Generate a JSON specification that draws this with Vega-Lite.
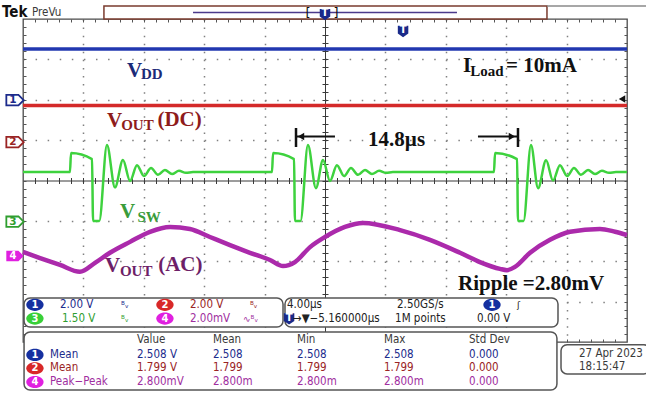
{
  "$schema": "https://vega.github.io/schema/vega-lite/v6.json",
  "width": 604,
  "height": 323,
  "autosize": {"type": "none"},
  "padding": {"left": 23, "top": 19, "right": 19, "bottom": 52},
  "background": "#ffffff",
  "config": {"view": {"stroke": "#4a4a4a", "strokeWidth": 1.3}},
  "resolve": {"axis": {"x": "independent", "y": "independent"}},
  "datasets": {
    "vdd": [{"t": -20, "v": 3.257}, {"t": 20, "v": 3.257}],
    "voutdc": [{"t": -20, "v": 1.858}, {"t": 20, "v": 1.858}],
    "vsw": [{"t":-20,"v":0.21},{"t":-16.89,"v":0.21},{"t":-16.82,"v":0.68},{"t":-15.43,"v":0.53},{"t":-15.36,"v":-1.0},{"t":-14.95,"v":-1.0},{"t":-14.44,"v":0.88},{"t":-13.91,"v":-0.17},{"t":-13.38,"v":0.51},{"t":-12.91,"v":-0.01},{"t":-12.45,"v":0.38},{"t":-11.99,"v":0.11},{"t":-11.52,"v":0.31},{"t":-11.06,"v":0.14},{"t":-10.6,"v":0.26},{"t":-10.13,"v":0.16},{"t":-9.67,"v":0.24},{"t":-9.21,"v":0.19},{"t":-8.74,"v":0.21},
      {"t":-3.51,"v":0.21},{"t":-3.44,"v":0.68},{"t":-2.05,"v":0.53},{"t":-1.99,"v":-1.0},{"t":-1.62,"v":-1.0},{"t":-1.13,"v":0.88},{"t":-0.6,"v":-0.19},{"t":-0.13,"v":0.51},{"t":0.33,"v":-0.01},{"t":0.79,"v":0.38},{"t":1.26,"v":0.11},{"t":1.72,"v":0.31},{"t":2.19,"v":0.14},{"t":2.65,"v":0.26},{"t":3.11,"v":0.16},{"t":3.58,"v":0.24},{"t":4.04,"v":0.19},{"t":4.5,"v":0.21},
      {"t":11.19,"v":0.21},{"t":11.26,"v":0.68},{"t":12.72,"v":0.53},{"t":12.78,"v":-1.0},{"t":13.15,"v":-1.0},{"t":13.64,"v":0.88},{"t":14.11,"v":-0.19},{"t":14.64,"v":0.5},{"t":15.1,"v":0.0},{"t":15.56,"v":0.38},{"t":16.03,"v":0.11},{"t":16.49,"v":0.31},{"t":16.95,"v":0.14},{"t":17.42,"v":0.26},{"t":17.88,"v":0.16},{"t":18.34,"v":0.24},{"t":18.81,"v":0.19},{"t":19.27,"v":0.21},{"t":20,"v":0.21}],
    "voutac": [{"t":-20,"v":-1.77},{"t":-18.87,"v":-1.92},{"t":-17.55,"v":-2.09},{"t":-16.23,"v":-2.26},{"t":-15.23,"v":-2.04},{"t":-14.24,"v":-1.79},{"t":-12.91,"v":-1.52},{"t":-11.59,"v":-1.27},{"t":-10.26,"v":-1.15},{"t":-8.94,"v":-1.2},{"t":-7.62,"v":-1.4},{"t":-6.29,"v":-1.6},{"t":-4.97,"v":-1.79},{"t":-3.64,"v":-1.97},{"t":-2.78,"v":-2.12},{"t":-1.99,"v":-2.02},{"t":-0.99,"v":-1.65},{"t":0,"v":-1.4},{"t":1.32,"v":-1.15},{"t":2.52,"v":-1.05},{"t":4.97,"v":-1.23},{"t":6.95,"v":-1.47},{"t":8.94,"v":-1.79},{"t":10.26,"v":-2.02},{"t":11.59,"v":-2.19},{"t":12.05,"v":-2.22},{"t":12.58,"v":-2.14},{"t":13.58,"v":-1.79},{"t":14.9,"v":-1.47},{"t":16.23,"v":-1.27},{"t":18.21,"v":-1.2},{"t":19.21,"v":-1.27},{"t":20,"v":-1.35}],
    "arrowLines": [{"t": -1.92, "t2": 0.66, "v": 1.09}, {"t": 10.13, "t2": 12.72, "v": 1.09}],
    "arrowBars": [{"t": -1.92, "v": 1.3, "v2": 0.83}, {"t": 12.78, "v": 1.3, "v2": 0.83}],
    "arrowHeads": [{"t": -1.59, "v": 1.09, "dir": "left"}, {"t": 12.38, "v": 1.09, "dir": "right"}, {"t": 19.67, "v": 2.02, "dir": "left"}],
    "serifMain": [
      {"label":"V","ch":"VDD","t":-13.11,"v":2.56},
      {"label":"V","ch":"VOUT(DC)","t":-14.44,"v":1.33},
      {"label":"(DC)","ch":"VOUT(DC)","t":-11.1,"v":1.35},
      {"label":"I","ch":"note","t":9.14,"v":2.69},
      {"label":"= 10mA","ch":"note","t":11.99,"v":2.69},
      {"label":"14.8µs","ch":"note","t":2.85,"v":0.85},
      {"label":"V","ch":"VSW","t":-13.58,"v":-0.93},
      {"label":"V","ch":"VOUT(AC)","t":-14.57,"v":-2.27},
      {"label":"(AC)","ch":"VOUT(AC)","t":-11.05,"v":-2.24},
      {"label":"Ripple =2.80mV","ch":"note","t":8.81,"v":-2.71}
    ],
    "serifSub": [
      {"label":"DD","ch":"VDD","t":-12.19,"v":2.51},
      {"label":"OUT","ch":"VOUT(DC)","t":-13.5,"v":1.26},
      {"label":"Load","ch":"note","t":9.62,"v":2.59},
      {"label":"SW","ch":"VSW","t":-12.42,"v":-1.03},
      {"label":"OUT","ch":"VOUT(AC)","t":-13.58,"v":-2.37}
    ],
    "scopeText": [
      {"label":"2.00 V","ch":"ch1","t":-17.55,"v":-3.08},
      {"label":"2.00 V","ch":"ch2","t":-8.94,"v":-3.08},
      {"label":"1.50 V","ch":"ch3","t":-17.42,"v":-3.42},
      {"label":"2.00mV","ch":"ch4","t":-8.94,"v":-3.42},
      {"label":"4.00µs","ch":"text","t":-2.52,"v":-3.08},
      {"label":"2.50GS/s","ch":"text","t":4.77,"v":-3.08},
      {"label":"→▼−5.160000µs","ch":"text","t":-2.12,"v":-3.42},
      {"label":"1M points","ch":"text","t":4.64,"v":-3.42},
      {"label":"0.00 V","ch":"text","t":10.07,"v":-3.42},
      {"label":"Value","ch":"header","t":-12.45,"v":-3.95},
      {"label":"Mean","ch":"header","t":-7.42,"v":-3.95},
      {"label":"Min","ch":"header","t":-1.85,"v":-3.95},
      {"label":"Max","ch":"header","t":3.91,"v":-3.95},
      {"label":"Std Dev","ch":"header","t":9.54,"v":-3.95},
      {"label":"Mean","ch":"ch1","t":-18.21,"v":-4.32},
      {"label":"2.508 V","ch":"ch1","t":-12.45,"v":-4.32},
      {"label":"2.508","ch":"ch1","t":-7.42,"v":-4.32},
      {"label":"2.508","ch":"ch1","t":-1.85,"v":-4.32},
      {"label":"2.508","ch":"ch1","t":3.91,"v":-4.32},
      {"label":"0.000","ch":"ch1","t":9.54,"v":-4.32},
      {"label":"Mean","ch":"ch2","t":-18.21,"v":-4.65},
      {"label":"1.799 V","ch":"ch2","t":-12.45,"v":-4.65},
      {"label":"1.799","ch":"ch2","t":-7.42,"v":-4.65},
      {"label":"1.799","ch":"ch2","t":-1.85,"v":-4.65},
      {"label":"1.799","ch":"ch2","t":3.91,"v":-4.65},
      {"label":"0.000","ch":"ch2","t":9.54,"v":-4.65},
      {"label":"Peak−Peak","ch":"ch4","t":-18.21,"v":-4.99},
      {"label":"2.800mV","ch":"ch4","t":-12.45,"v":-4.99},
      {"label":"2.800m","ch":"ch4","t":-7.42,"v":-4.99},
      {"label":"2.800m","ch":"ch4","t":-1.85,"v":-4.99},
      {"label":"2.800m","ch":"ch4","t":3.91,"v":-4.99},
      {"label":"0.000","ch":"ch4","t":9.54,"v":-4.99},
      {"label":"27 Apr  2023","ch":"header","t":16.82,"v":-4.29},
      {"label":"18:15:47","ch":"header","t":16.82,"v":-4.62},
      {"label":"PreVu","ch":"header","t":-19.4,"v":4.16}
    ],
    "icons": [
      {"label":"ᴮᵥ","ch":"ch1","t":-13.51,"v":-3.08},
      {"label":"ᴮᵥ","ch":"ch2","t":-4.97,"v":-3.08},
      {"label":"ᴮᵥ","ch":"ch3","t":-13.51,"v":-3.42},
      {"label":"∿ᴮᵥ","ch":"ch4","t":-5.43,"v":-3.42},
      {"label":"ʃ","ch":"text","t":12.72,"v":-3.08}
    ],
    "badges": [
      {"ch":"ch1 badge","t":-19.21,"v":-3.08},{"ch":"ch2 badge","t":-10.6,"v":-3.08},
      {"ch":"ch3 badge","t":-19.21,"v":-3.42},{"ch":"ch4 badge","t":-10.6,"v":-3.42},
      {"ch":"ch1 badge","t":11.06,"v":-3.08},
      {"ch":"ch1 badge","t":-19.21,"v":-4.32},{"ch":"ch2 badge","t":-19.21,"v":-4.65},{"ch":"ch4 badge","t":-19.21,"v":-4.99}
    ],
    "shields": [{"ch":"trigger","t":0,"v":4.12},{"ch":"trigger","t":5.17,"v":3.7},{"ch":"trigger","t":-2.38,"v":-3.42}],
    "chMarkers": [{"ch":"ch1","label":"1","t":-20.53,"v":1.99},{"ch":"ch2","label":"2","t":-20.53,"v":0.95},{"ch":"ch3","label":"3","t":-20.53,"v":-1.02}],
    "ch4Marker": [{"ch":"ch4 badge","t":-20.53,"v":-1.87}],
    "whiteGlyphs": [
      {"label":"1","t":-19.21,"v":-3.08},{"label":"2","t":-10.6,"v":-3.08},{"label":"3","t":-19.21,"v":-3.42},{"label":"4","t":-10.6,"v":-3.42},
      {"label":"1","t":11.06,"v":-3.08},{"label":"1","t":-19.21,"v":-4.32},{"label":"2","t":-19.21,"v":-4.65},{"label":"4","t":-19.21,"v":-4.99},
      {"label":"T","t":0,"v":4.14},{"label":"T","t":5.17,"v":3.72},{"label":"T","t":-2.38,"v":-3.4},{"label":"4","t":-20.66,"v":-1.87}
    ],
    "brackets": [{"label":"[","t":-1.13,"v":4.16},{"label":"]","t":0.73,"v":4.16}],
    "recBar": [{"t":-14.64,"t2":14.7,"v":4.32,"v2":4.0}],
    "topRules": [{"ch":"record","t":-8.74,"t2":8.74,"v":4.16},{"ch":"frame","t":14.7,"t2":21.6,"v":4.32}],
    "panels": [
      {"name":"channel scales","t":-19.93,"t2":-2.78,"v":-2.91,"v2":-3.63},
      {"name":"timebase","t":-2.65,"t2":15.43,"v":-2.91,"v2":-3.63},
      {"name":"measurements","t":-19.93,"t2":15.36,"v":-3.75,"v2":-5.19},
      {"name":"date","t":15.63,"t2":21.52,"v":-4.07,"v2":-4.79}
    ]
  },
  "layer": [
    {
      "data": {"name": "vdd"},
      "mark": {"type": "line", "color": "#2238b0", "strokeWidth": 3.5},
      "encoding": {
        "x": {"field": "t", "type": "quantitative", "scale": {"domain": [-20, 20], "nice": false, "zero": false},
              "axis": {"orient": "bottom", "grid": true, "gridColor": "#808080", "gridWidth": 1.5, "gridDash": [1.5, 6.57], "values": [-16, -12, -8, -4, 4, 8, 12, 16], "ticks": false, "labels": false, "domain": false, "title": null}},
        "y": {"field": "v", "type": "quantitative", "scale": {"domain": [-4, 4], "nice": false, "zero": false},
              "axis": {"orient": "left", "grid": true, "gridColor": "#808080", "gridWidth": 1.5, "gridDash": [1.5, 10.58], "values": [-3, -2, -1, 1, 2, 3], "ticks": false, "labels": false, "domain": false, "title": null}}
      }
    },
    {
      "data": {"name": "voutdc"},
      "mark": {"type": "line", "color": "#d42a2a", "strokeWidth": 3.5},
      "encoding": {
        "x": {"field": "t", "type": "quantitative", "scale": {"domain": [-20, 20], "nice": false, "zero": false},
              "axis": {"orient": "bottom", "offset": -161.5, "values": [-19.2,-18.4,-17.6,-16.8,-16,-15.2,-14.4,-13.6,-12.8,-12,-11.2,-10.4,-9.6,-8.8,-8,-7.2,-6.4,-5.6,-4.8,-4,-3.2,-2.4,-1.6,-0.8,0,0.8,1.6,2.4,3.2,4,4.8,5.6,6.4,7.2,8,8.8,9.6,10.4,11.2,12,12.8,13.6,14.4,15.2,16,16.8,17.6,18.4,19.2], "ticks": true, "tickSize": 3, "tickColor": "#3a3a3a", "domain": true, "domainColor": "#3a3a3a", "domainWidth": 1, "labels": false, "grid": false, "title": null}},
        "y": {"field": "v", "type": "quantitative", "scale": {"domain": [-4, 4], "nice": false, "zero": false},
              "axis": {"orient": "left", "offset": -302, "values": [-3.8,-3.6,-3.4,-3.2,-3,-2.8,-2.6,-2.4,-2.2,-2,-1.8,-1.6,-1.4,-1.2,-1,-0.8,-0.6,-0.4,-0.2,0,0.2,0.4,0.6,0.8,1,1.2,1.4,1.6,1.8,2,2.2,2.4,2.6,2.8,3,3.2,3.4,3.6,3.8], "ticks": true, "tickSize": 3, "tickColor": "#3a3a3a", "domain": true, "domainColor": "#3a3a3a", "domainWidth": 1, "labels": false, "grid": false, "title": null}}
      }
    },
    {
      "data": {"name": "vsw"},
      "mark": {"type": "line", "color": "#3ed23e", "strokeWidth": 2.5, "interpolate": "monotone"},
      "encoding": {
        "x": {"field": "t", "type": "quantitative", "scale": {"domain": [-20, 20], "nice": false, "zero": false},
              "axis": {"orient": "top", "offset": -161.5, "values": [-19.2,-18.4,-17.6,-16.8,-16,-15.2,-14.4,-13.6,-12.8,-12,-11.2,-10.4,-9.6,-8.8,-8,-7.2,-6.4,-5.6,-4.8,-4,-3.2,-2.4,-1.6,-0.8,0,0.8,1.6,2.4,3.2,4,4.8,5.6,6.4,7.2,8,8.8,9.6,10.4,11.2,12,12.8,13.6,14.4,15.2,16,16.8,17.6,18.4,19.2], "ticks": true, "tickSize": 3, "tickColor": "#3a3a3a", "domain": false, "labels": false, "grid": false, "title": null}},
        "y": {"field": "v", "type": "quantitative", "scale": {"domain": [-4, 4], "nice": false, "zero": false},
              "axis": {"orient": "right", "offset": -302, "values": [-3.8,-3.6,-3.4,-3.2,-3,-2.8,-2.6,-2.4,-2.2,-2,-1.8,-1.6,-1.4,-1.2,-1,-0.8,-0.6,-0.4,-0.2,0,0.2,0.4,0.6,0.8,1,1.2,1.4,1.6,1.8,2,2.2,2.4,2.6,2.8,3,3.2,3.4,3.6,3.8], "ticks": true, "tickSize": 3, "tickColor": "#3a3a3a", "domain": false, "labels": false, "grid": false, "title": null}}
      }
    },
    {
      "data": {"name": "voutac"},
      "mark": {"type": "line", "color": "#ab2aab", "strokeWidth": 4.5, "strokeJoin": "round", "interpolate": "monotone"},
      "encoding": {
        "x": {"field": "t", "type": "quantitative", "scale": {"domain": [-20, 20], "nice": false, "zero": false},
              "axis": {"orient": "top", "offset": -3, "values": [-19.2,-18.4,-17.6,-16.8,-16,-15.2,-14.4,-13.6,-12.8,-12,-11.2,-10.4,-9.6,-8.8,-8,-7.2,-6.4,-5.6,-4.8,-4,-3.2,-2.4,-1.6,-0.8,0,0.8,1.6,2.4,3.2,4,4.8,5.6,6.4,7.2,8,8.8,9.6,10.4,11.2,12,12.8,13.6,14.4,15.2,16,16.8,17.6,18.4,19.2], "ticks": true, "tickSize": 3, "tickColor": "#555555", "domain": false, "labels": false, "grid": false, "title": null}},
        "y": {"field": "v", "type": "quantitative", "scale": {"domain": [-4, 4], "nice": false, "zero": false},
              "axis": {"orient": "left", "offset": -3, "values": [-3.8,-3.6,-3.4,-3.2,-3,-2.8,-2.6,-2.4,-2.2,-2,-1.8,-1.6,-1.4,-1.2,-1,-0.8,-0.6,-0.4,-0.2,0,0.2,0.4,0.6,0.8,1,1.2,1.4,1.6,1.8,2,2.2,2.4,2.6,2.8,3,3.2,3.4,3.6,3.8], "ticks": true, "tickSize": 3, "tickColor": "#555555", "domain": false, "labels": false, "grid": false, "title": null}}
      }
    },
    {
      "data": {"name": "arrowLines"},
      "mark": {"type": "rule", "color": "#111111", "strokeWidth": 2},
      "encoding": {
        "x": {"field": "t", "type": "quantitative", "scale": {"domain": [-20, 20], "nice": false, "zero": false},
              "axis": {"orient": "bottom", "offset": -3, "values": [-19.2,-18.4,-17.6,-16.8,-16,-15.2,-14.4,-13.6,-12.8,-12,-11.2,-10.4,-9.6,-8.8,-8,-7.2,-6.4,-5.6,-4.8,-4,-3.2,-2.4,-1.6,-0.8,0,0.8,1.6,2.4,3.2,4,4.8,5.6,6.4,7.2,8,8.8,9.6,10.4,11.2,12,12.8,13.6,14.4,15.2,16,16.8,17.6,18.4,19.2], "ticks": true, "tickSize": 3, "tickColor": "#555555", "domain": false, "labels": false, "grid": false, "title": null}},
        "x2": {"field": "t2"},
        "y": {"field": "v", "type": "quantitative", "scale": {"domain": [-4, 4], "nice": false, "zero": false},
              "axis": {"orient": "right", "offset": -3, "values": [-3.8,-3.6,-3.4,-3.2,-3,-2.8,-2.6,-2.4,-2.2,-2,-1.8,-1.6,-1.4,-1.2,-1,-0.8,-0.6,-0.4,-0.2,0,0.2,0.4,0.6,0.8,1,1.2,1.4,1.6,1.8,2,2.2,2.4,2.6,2.8,3,3.2,3.4,3.6,3.8], "ticks": true, "tickSize": 3, "tickColor": "#555555", "domain": false, "labels": false, "grid": false, "title": null}}
      }
    },
    {
      "data": {"name": "arrowBars"},
      "mark": {"type": "rule", "color": "#111111", "strokeWidth": 2.5},
      "encoding": {
        "x": {"field": "t", "type": "quantitative", "axis": null},
        "y": {"field": "v", "type": "quantitative", "axis": null},
        "y2": {"field": "v2"}
      }
    },
    {
      "data": {"name": "arrowHeads"},
      "mark": {"type": "point", "filled": true, "color": "#111111", "size": 55, "opacity": 1},
      "encoding": {
        "x": {"field": "t", "type": "quantitative", "axis": null},
        "y": {"field": "v", "type": "quantitative", "axis": null},
        "shape": {"field": "dir", "type": "nominal", "legend": null, "scale": {"domain": ["left", "right"], "range": ["triangle-left", "triangle-right"]}}
      }
    },
    {
      "data": {"name": "serifMain"},
      "mark": {"type": "text", "font": "Liberation Serif", "fontWeight": "bold", "fontSize": 21, "align": "left", "baseline": "alphabetic"},
      "encoding": {
        "x": {"field": "t", "type": "quantitative", "axis": null},
        "y": {"field": "v", "type": "quantitative", "axis": null},
        "text": {"field": "label", "type": "nominal"},
        "color": {"field": "ch", "type": "nominal", "legend": null, "scale": {"domain": ["VDD","VOUT(DC)","VSW","VOUT(AC)","note","ch1","ch2","ch3","ch4","ch1 badge","ch2 badge","ch3 badge","ch4 badge","text","header","trigger","record","frame"], "range": ["#1b2a78","#8e1b1b","#3a9c3a","#6e1f68","#111111","#1c2b8c","#9a2424","#2f9e2f","#a02ea0","#1530a0","#d82828","#38d038","#e020e0","#222222","#3a3a3a","#1a2a8a","#4b3a8c","#8a8a8a"]}}
      }
    },
    {
      "data": {"name": "serifSub"},
      "mark": {"type": "text", "font": "Liberation Serif", "fontWeight": "bold", "fontSize": 15, "align": "left", "baseline": "alphabetic"},
      "encoding": {
        "x": {"field": "t", "type": "quantitative", "axis": null},
        "y": {"field": "v", "type": "quantitative", "axis": null},
        "text": {"field": "label", "type": "nominal"},
        "color": {"field": "ch", "type": "nominal", "legend": null}
      }
    },
    {
      "data": {"name": "recBar"},
      "mark": {"type": "rect", "fill": "#ffffff", "stroke": "#7a3b2e", "strokeWidth": 1.5},
      "encoding": {
        "x": {"field": "t", "type": "quantitative", "axis": null},
        "x2": {"field": "t2"},
        "y": {"field": "v", "type": "quantitative", "axis": null},
        "y2": {"field": "v2"}
      }
    },
    {
      "data": {"name": "topRules"},
      "mark": {"type": "rule", "strokeWidth": 1.5},
      "encoding": {
        "x": {"field": "t", "type": "quantitative", "axis": null},
        "x2": {"field": "t2"},
        "y": {"field": "v", "type": "quantitative", "axis": null},
        "color": {"field": "ch", "type": "nominal", "legend": null}
      }
    },
    {
      "data": {"name": "brackets"},
      "mark": {"type": "text", "font": "DejaVu Sans", "fontSize": 13, "align": "center", "baseline": "middle", "color": "#111111"},
      "encoding": {
        "x": {"field": "t", "type": "quantitative", "axis": null},
        "y": {"field": "v", "type": "quantitative", "axis": null},
        "text": {"field": "label", "type": "nominal"}
      }
    },
    {
      "data": {"values": [{"label": "Tek", "t": -21.39, "v": 4.05}]},
      "mark": {"type": "text", "font": "DejaVu Sans Condensed, DejaVu Sans", "fontWeight": "bold", "fontSize": 15, "align": "left", "baseline": "alphabetic", "color": "#111111"},
      "encoding": {
        "x": {"field": "t", "type": "quantitative", "axis": null},
        "y": {"field": "v", "type": "quantitative", "axis": null},
        "text": {"field": "label", "type": "nominal"}
      }
    },
    {
      "data": {"name": "chMarkers"},
      "mark": {"type": "point", "filled": false, "strokeWidth": 1.8, "size": 300, "opacity": 1, "shape": "M-1,-0.6L0.4,-0.6L1,0L0.4,0.6L-1,0.6Z", "fill": "#ffffff", "fillOpacity": 1},
      "encoding": {
        "x": {"field": "t", "type": "quantitative", "axis": null},
        "y": {"field": "v", "type": "quantitative", "axis": null},
        "color": {"field": "ch", "type": "nominal", "legend": null}
      }
    },
    {
      "data": {"name": "chMarkers"},
      "mark": {"type": "text", "font": "DejaVu Sans", "fontWeight": "bold", "fontSize": 10.5, "align": "center", "baseline": "middle", "dx": -2},
      "encoding": {
        "x": {"field": "t", "type": "quantitative", "axis": null},
        "y": {"field": "v", "type": "quantitative", "axis": null},
        "text": {"field": "label", "type": "nominal"},
        "color": {"field": "ch", "type": "nominal", "legend": null}
      }
    },
    {
      "data": {"name": "ch4Marker"},
      "mark": {"type": "point", "filled": true, "size": 300, "opacity": 1, "shape": "M-1,-0.6L0.4,-0.6L1,0L0.4,0.6L-1,0.6Z"},
      "encoding": {
        "x": {"field": "t", "type": "quantitative", "axis": null},
        "y": {"field": "v", "type": "quantitative", "axis": null},
        "color": {"field": "ch", "type": "nominal", "legend": null}
      }
    },
    {
      "data": {"name": "panels"},
      "mark": {"type": "rect", "fill": "#ffffff", "stroke": "#555555", "strokeWidth": 1.5, "cornerRadius": 6},
      "encoding": {
        "x": {"field": "t", "type": "quantitative", "axis": null},
        "x2": {"field": "t2"},
        "y": {"field": "v", "type": "quantitative", "axis": null},
        "y2": {"field": "v2"}
      }
    },
    {
      "data": {"name": "badges"},
      "mark": {"type": "point", "filled": true, "size": 300, "opacity": 1, "shape": "M-1,0A1,0.7 0 1 1 1,0A1,0.7 0 1 1 -1,0Z"},
      "encoding": {
        "x": {"field": "t", "type": "quantitative", "axis": null},
        "y": {"field": "v", "type": "quantitative", "axis": null},
        "color": {"field": "ch", "type": "nominal", "legend": null}
      }
    },
    {
      "data": {"name": "shields"},
      "mark": {"type": "point", "filled": true, "size": 110, "opacity": 1, "shape": "M-1,-1L1,-1L1,0.45L0,1.15L-1,0.45Z"},
      "encoding": {
        "x": {"field": "t", "type": "quantitative", "axis": null},
        "y": {"field": "v", "type": "quantitative", "axis": null},
        "color": {"field": "ch", "type": "nominal", "legend": null}
      }
    },
    {
      "data": {"name": "whiteGlyphs"},
      "mark": {"type": "text", "font": "DejaVu Sans", "fontWeight": "bold", "fontSize": 10, "align": "center", "baseline": "middle", "color": "#ffffff"},
      "encoding": {
        "x": {"field": "t", "type": "quantitative", "axis": null},
        "y": {"field": "v", "type": "quantitative", "axis": null},
        "text": {"field": "label", "type": "nominal"}
      }
    },
    {
      "data": {"name": "scopeText"},
      "mark": {"type": "text", "font": "DejaVu Sans Condensed, Liberation Sans Narrow, DejaVu Sans, sans-serif", "fontSize": 11.5, "align": "left", "baseline": "middle"},
      "encoding": {
        "x": {"field": "t", "type": "quantitative", "axis": null},
        "y": {"field": "v", "type": "quantitative", "axis": null},
        "text": {"field": "label", "type": "nominal"},
        "color": {"field": "ch", "type": "nominal", "legend": null}
      }
    },
    {
      "data": {"name": "icons"},
      "mark": {"type": "text", "font": "DejaVu Sans", "fontSize": 9, "align": "left", "baseline": "middle"},
      "encoding": {
        "x": {"field": "t", "type": "quantitative", "axis": null},
        "y": {"field": "v", "type": "quantitative", "axis": null},
        "text": {"field": "label", "type": "nominal"},
        "color": {"field": "ch", "type": "nominal", "legend": null}
      }
    }
  ]
}
